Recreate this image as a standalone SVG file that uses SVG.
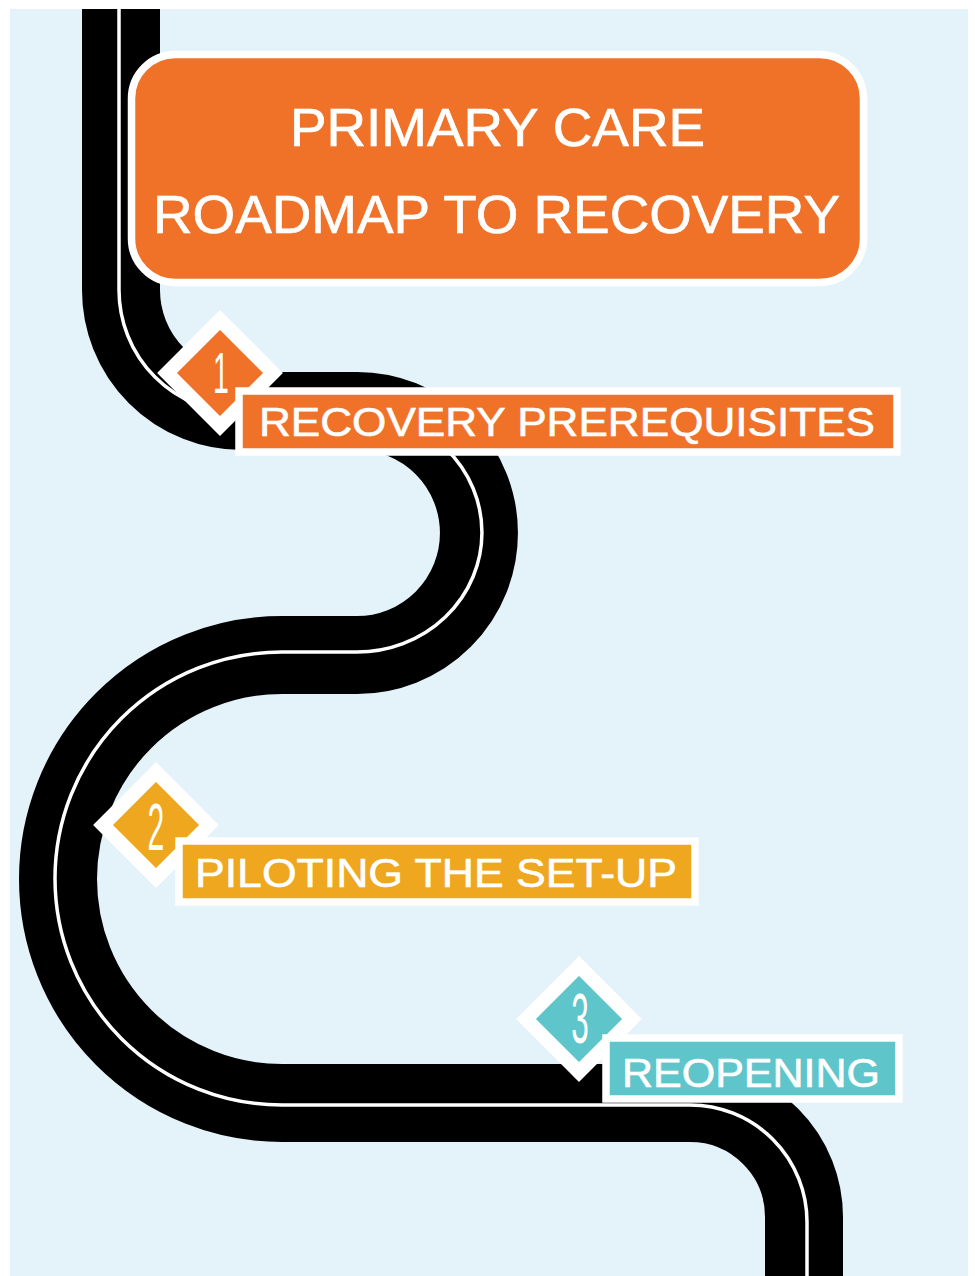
<svg xmlns="http://www.w3.org/2000/svg" width="975" height="1276" viewBox="0 0 975 1276">
  <style>
    .road { fill: none; stroke: #000; stroke-width: 78; }
    .lane { fill: none; stroke: #fff; stroke-width: 3.5; }
    .frame { stroke: #fff; stroke-width: 7.5; }
    .diamond { stroke: #fff; stroke-width: 14; stroke-linejoin: miter; }
    .title { font-family: "Liberation Sans", Arial, sans-serif; font-size: 54px; fill: #fff; stroke: #fff; stroke-width: 0.7; text-anchor: middle; }
    .label { font-family: "Liberation Sans", Arial, sans-serif; font-size: 41px; fill: #fff; stroke: #fff; stroke-width: 0.6; text-anchor: middle; }
    .digit { font-family: "Liberation Sans", Arial, sans-serif; fill: #fff; text-anchor: middle; }
    .orange { fill: #f07229; }
    .yellow { fill: #eea71f; }
    .teal { fill: #5ec5cb; }
  </style>

  <!-- page and sky-blue panel -->
  <rect x="0" y="0" width="975" height="1276" fill="#fff"/>
  <rect x="10" y="9" width="958" height="1267" fill="#e3f3f9"/>

  <!-- winding road -->
  <g id="connectors">
    <path class="road" d="M121,9 V290 A121,121 0 0 0 242,411 H357 A122,122 0 0 1 357,655 H282 A224,224 0 0 0 282,1103 H690 A114,114 0 0 1 804,1217 V1276"/>
    <path class="lane" d="M119,9 V290 A123,123 0 0 0 242,413 H357 A125,119.5 0 0 1 357,652 H282 A227,226.5 0 0 0 282,1105 H690 A117,117 0 0 1 807,1222 V1276"/>
  </g>

  <!-- heading -->
  <g id="title">
    <rect class="orange frame" x="131.5" y="54.5" width="732" height="228" rx="44"/>
    <text class="title" x="497.5" y="146" textLength="415" lengthAdjust="spacingAndGlyphs">PRIMARY CARE</text>
    <text class="title" x="496.5" y="233" textLength="687" lengthAdjust="spacingAndGlyphs">ROADMAP TO RECOVERY</text>
  </g>

  <!-- stage 1 -->
  <g id="stage1">
    <polygon class="orange diamond" points="220,320 273,373 220,426 167,373"/>
    <text class="digit" font-size="57" transform="translate(221,393) scale(0.5,1)">1</text>
    <rect class="orange frame" x="239" y="391" width="658" height="61"/>
    <text class="label" x="567" y="436" textLength="616" lengthAdjust="spacingAndGlyphs">RECOVERY PREREQUISITES</text>
  </g>

  <!-- stage 2 -->
  <g id="stage2">
    <polygon class="yellow diamond" points="156,772 209,825 156,878 103,825"/>
    <text class="digit" font-size="67" transform="translate(156,850) scale(0.45,1)">2</text>
    <rect class="yellow frame" x="179" y="841" width="516" height="61"/>
    <text class="label" x="436" y="887" textLength="482" lengthAdjust="spacingAndGlyphs">PILOTING THE SET-UP</text>
  </g>

  <!-- stage 3 -->
  <g id="stage3">
    <polygon class="teal diamond" points="579,966 632,1019 579,1072 526,1019"/>
    <text class="digit" font-size="70" transform="translate(580,1043) scale(0.45,1)">3</text>
    <rect class="teal frame" x="606" y="1038" width="293" height="61"/>
    <text class="label" x="751" y="1087" font-size="42" textLength="258" lengthAdjust="spacingAndGlyphs">REOPENING</text>
  </g>
</svg>
